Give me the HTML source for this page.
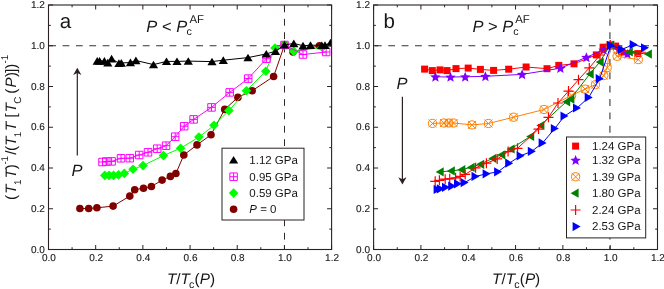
<!DOCTYPE html>
<html><head><meta charset="utf-8"><title>chart</title>
<style>html,body{margin:0;padding:0;background:#fff}svg{display:block}text{filter:grayscale(1);text-rendering:geometricPrecision}</style></head>
<body>
<svg width="664" height="289" viewBox="0 0 664 289" font-family="'Liberation Sans', sans-serif">
<rect width="664" height="289" fill="#fff"/>
<defs><clipPath id="ca"><rect x="48.5" y="5.0" width="283.5" height="244.5"/></clipPath><clipPath id="cb"><rect x="373.6" y="5.0" width="284.29999999999995" height="244.5"/></clipPath></defs>
<line x1="49.2" y1="45.75" x2="331.6" y2="45.75" stroke="#3a3030" stroke-width="1.05" stroke-dasharray="6.8 6.57"/>
<line x1="284.50" y1="5.5" x2="284.50" y2="249.5" stroke="#1a1010" stroke-width="0.9" stroke-dasharray="6.8 6.57"/>
<g clip-path="url(#ca)">
<path d="M79.90 208.50L88.70 208.50L96.90 207.80L113.10 206.10L129.80 196.10L134.70 189.70L143.50 188.20L151.40 186.50L162.10 180.10L170.40 176.40L175.90 173.50L183.80 155.00L197.00 144.90L211.00 134.80L224.70 109.40L237.90 97.40L252.20 90.70L273.60 76.50L284.50 45.00L293.00 51.90L319.40 45.80" fill="none" stroke="#800000" stroke-width="1.0" stroke-linejoin="round"/>
<circle cx="79.90" cy="208.50" r="3.8" fill="#800000"/>
<circle cx="88.70" cy="208.50" r="3.8" fill="#800000"/>
<circle cx="96.90" cy="207.80" r="3.8" fill="#800000"/>
<circle cx="113.10" cy="206.10" r="3.8" fill="#800000"/>
<circle cx="129.80" cy="196.10" r="3.8" fill="#800000"/>
<circle cx="134.70" cy="189.70" r="3.8" fill="#800000"/>
<circle cx="143.50" cy="188.20" r="3.8" fill="#800000"/>
<circle cx="151.40" cy="186.50" r="3.8" fill="#800000"/>
<circle cx="162.10" cy="180.10" r="3.8" fill="#800000"/>
<circle cx="170.40" cy="176.40" r="3.8" fill="#800000"/>
<circle cx="175.90" cy="173.50" r="3.8" fill="#800000"/>
<circle cx="183.80" cy="155.00" r="3.8" fill="#800000"/>
<circle cx="197.00" cy="144.90" r="3.8" fill="#800000"/>
<circle cx="211.00" cy="134.80" r="3.8" fill="#800000"/>
<circle cx="224.70" cy="109.40" r="3.8" fill="#800000"/>
<circle cx="237.90" cy="97.40" r="3.8" fill="#800000"/>
<circle cx="252.20" cy="90.70" r="3.8" fill="#800000"/>
<circle cx="273.60" cy="76.50" r="3.8" fill="#800000"/>
<circle cx="284.50" cy="45.00" r="3.8" fill="#800000"/>
<circle cx="293.00" cy="51.90" r="3.8" fill="#800000"/>
<circle cx="319.40" cy="45.80" r="3.8" fill="#800000"/>
<path d="M104.80 175.40L109.10 175.40L113.60 175.40L118.50 174.90L124.30 173.40L133.00 169.30L143.00 165.60L163.40 155.60L180.60 148.20L198.90 137.10L214.00 125.30L228.90 110.60L246.40 90.70L265.80 71.20L275.00 48.00L284.50 45.00L293.80 51.40L322.30 47.40" fill="none" stroke="#00ff00" stroke-width="1.0" stroke-linejoin="round"/>
<path d="M104.80 170.60L109.60 175.40L104.80 180.20L100.00 175.40z" fill="#00ff00"/>
<path d="M109.10 170.60L113.90 175.40L109.10 180.20L104.30 175.40z" fill="#00ff00"/>
<path d="M113.60 170.60L118.40 175.40L113.60 180.20L108.80 175.40z" fill="#00ff00"/>
<path d="M118.50 170.10L123.30 174.90L118.50 179.70L113.70 174.90z" fill="#00ff00"/>
<path d="M124.30 168.60L129.10 173.40L124.30 178.20L119.50 173.40z" fill="#00ff00"/>
<path d="M133.00 164.50L137.80 169.30L133.00 174.10L128.20 169.30z" fill="#00ff00"/>
<path d="M143.00 160.80L147.80 165.60L143.00 170.40L138.20 165.60z" fill="#00ff00"/>
<path d="M163.40 150.80L168.20 155.60L163.40 160.40L158.60 155.60z" fill="#00ff00"/>
<path d="M180.60 143.40L185.40 148.20L180.60 153.00L175.80 148.20z" fill="#00ff00"/>
<path d="M198.90 132.30L203.70 137.10L198.90 141.90L194.10 137.10z" fill="#00ff00"/>
<path d="M214.00 120.50L218.80 125.30L214.00 130.10L209.20 125.30z" fill="#00ff00"/>
<path d="M228.90 105.80L233.70 110.60L228.90 115.40L224.10 110.60z" fill="#00ff00"/>
<path d="M246.40 85.90L251.20 90.70L246.40 95.50L241.60 90.70z" fill="#00ff00"/>
<path d="M265.80 66.40L270.60 71.20L265.80 76.00L261.00 71.20z" fill="#00ff00"/>
<path d="M275.00 43.20L279.80 48.00L275.00 52.80L270.20 48.00z" fill="#00ff00"/>
<path d="M284.50 40.20L289.30 45.00L284.50 49.80L279.70 45.00z" fill="#00ff00"/>
<path d="M293.80 46.60L298.60 51.40L293.80 56.20L289.00 51.40z" fill="#00ff00"/>
<path d="M322.30 42.60L327.10 47.40L322.30 52.20L317.50 47.40z" fill="#00ff00"/>
<path d="M102.50 162.00L106.30 161.50L111.60 161.40L121.00 158.30L129.80 158.20L139.20 155.00L148.00 152.30L157.20 148.70L166.10 145.70L175.20 136.70L184.20 126.20L193.60 119.40L211.50 107.40L229.70 92.40L248.20 78.60L266.50 58.70L284.50 45.00L303.00 54.50L326.20 52.00" fill="none" stroke="#ff00ff" stroke-width="1.0" stroke-linejoin="round"/>
<path d="M98.75 158.25h7.5v7.5h-7.5zM102.50 158.25v7.5M98.75 162.00h7.5" fill="none" stroke="#ff00ff" stroke-width="1.0"/>
<path d="M102.55 157.75h7.5v7.5h-7.5zM106.30 157.75v7.5M102.55 161.50h7.5" fill="none" stroke="#ff00ff" stroke-width="1.0"/>
<path d="M107.85 157.65h7.5v7.5h-7.5zM111.60 157.65v7.5M107.85 161.40h7.5" fill="none" stroke="#ff00ff" stroke-width="1.0"/>
<path d="M117.25 154.55h7.5v7.5h-7.5zM121.00 154.55v7.5M117.25 158.30h7.5" fill="none" stroke="#ff00ff" stroke-width="1.0"/>
<path d="M126.05 154.45h7.5v7.5h-7.5zM129.80 154.45v7.5M126.05 158.20h7.5" fill="none" stroke="#ff00ff" stroke-width="1.0"/>
<path d="M135.45 151.25h7.5v7.5h-7.5zM139.20 151.25v7.5M135.45 155.00h7.5" fill="none" stroke="#ff00ff" stroke-width="1.0"/>
<path d="M144.25 148.55h7.5v7.5h-7.5zM148.00 148.55v7.5M144.25 152.30h7.5" fill="none" stroke="#ff00ff" stroke-width="1.0"/>
<path d="M153.45 144.95h7.5v7.5h-7.5zM157.20 144.95v7.5M153.45 148.70h7.5" fill="none" stroke="#ff00ff" stroke-width="1.0"/>
<path d="M162.35 141.95h7.5v7.5h-7.5zM166.10 141.95v7.5M162.35 145.70h7.5" fill="none" stroke="#ff00ff" stroke-width="1.0"/>
<path d="M171.45 132.95h7.5v7.5h-7.5zM175.20 132.95v7.5M171.45 136.70h7.5" fill="none" stroke="#ff00ff" stroke-width="1.0"/>
<path d="M180.45 122.45h7.5v7.5h-7.5zM184.20 122.45v7.5M180.45 126.20h7.5" fill="none" stroke="#ff00ff" stroke-width="1.0"/>
<path d="M189.85 115.65h7.5v7.5h-7.5zM193.60 115.65v7.5M189.85 119.40h7.5" fill="none" stroke="#ff00ff" stroke-width="1.0"/>
<path d="M207.75 103.65h7.5v7.5h-7.5zM211.50 103.65v7.5M207.75 107.40h7.5" fill="none" stroke="#ff00ff" stroke-width="1.0"/>
<path d="M225.95 88.65h7.5v7.5h-7.5zM229.70 88.65v7.5M225.95 92.40h7.5" fill="none" stroke="#ff00ff" stroke-width="1.0"/>
<path d="M244.45 74.85h7.5v7.5h-7.5zM248.20 74.85v7.5M244.45 78.60h7.5" fill="none" stroke="#ff00ff" stroke-width="1.0"/>
<path d="M262.75 54.95h7.5v7.5h-7.5zM266.50 54.95v7.5M262.75 58.70h7.5" fill="none" stroke="#ff00ff" stroke-width="1.0"/>
<path d="M280.75 41.25h7.5v7.5h-7.5zM284.50 41.25v7.5M280.75 45.00h7.5" fill="none" stroke="#ff00ff" stroke-width="1.0"/>
<path d="M299.25 50.75h7.5v7.5h-7.5zM303.00 50.75v7.5M299.25 54.50h7.5" fill="none" stroke="#ff00ff" stroke-width="1.0"/>
<path d="M322.45 48.25h7.5v7.5h-7.5zM326.20 48.25v7.5M322.45 52.00h7.5" fill="none" stroke="#ff00ff" stroke-width="1.0"/>
<path d="M97.20 61.00L99.60 61.00L104.40 61.00L107.80 62.70L111.60 58.70L118.90 63.20L121.30 63.00L130.40 62.50L135.90 60.50L153.50 64.60L166.50 61.40L177.00 61.40L188.30 61.10L212.00 61.60L223.30 60.20L248.00 57.60L266.30 53.90L275.50 51.20L284.50 44.80L293.80 43.50L303.00 45.70L310.50 45.20L321.80 45.40L325.00 45.20L330.50 42.70" fill="none" stroke="#000000" stroke-width="1.0" stroke-linejoin="round"/>
<path d="M97.20 57.10L101.80 64.70L92.60 64.70z" fill="#000000"/>
<path d="M99.60 57.10L104.20 64.70L95.00 64.70z" fill="#000000"/>
<path d="M104.40 57.10L109.00 64.70L99.80 64.70z" fill="#000000"/>
<path d="M107.80 58.80L112.40 66.40L103.20 66.40z" fill="#000000"/>
<path d="M111.60 54.80L116.20 62.40L107.00 62.40z" fill="#000000"/>
<path d="M118.90 59.30L123.50 66.90L114.30 66.90z" fill="#000000"/>
<path d="M121.30 59.10L125.90 66.70L116.70 66.70z" fill="#000000"/>
<path d="M130.40 58.60L135.00 66.20L125.80 66.20z" fill="#000000"/>
<path d="M135.90 56.60L140.50 64.20L131.30 64.20z" fill="#000000"/>
<path d="M153.50 60.70L158.10 68.30L148.90 68.30z" fill="#000000"/>
<path d="M166.50 57.50L171.10 65.10L161.90 65.10z" fill="#000000"/>
<path d="M177.00 57.50L181.60 65.10L172.40 65.10z" fill="#000000"/>
<path d="M188.30 57.20L192.90 64.80L183.70 64.80z" fill="#000000"/>
<path d="M212.00 57.70L216.60 65.30L207.40 65.30z" fill="#000000"/>
<path d="M223.30 56.30L227.90 63.90L218.70 63.90z" fill="#000000"/>
<path d="M248.00 53.70L252.60 61.30L243.40 61.30z" fill="#000000"/>
<path d="M266.30 50.00L270.90 57.60L261.70 57.60z" fill="#000000"/>
<path d="M275.50 47.30L280.10 54.90L270.90 54.90z" fill="#000000"/>
<path d="M284.50 40.90L289.10 48.50L279.90 48.50z" fill="#000000"/>
<path d="M293.80 39.60L298.40 47.20L289.20 47.20z" fill="#000000"/>
<path d="M303.00 41.80L307.60 49.40L298.40 49.40z" fill="#000000"/>
<path d="M310.50 41.30L315.10 48.90L305.90 48.90z" fill="#000000"/>
<path d="M321.80 41.50L326.40 49.10L317.20 49.10z" fill="#000000"/>
<path d="M325.00 41.30L329.60 48.90L320.40 48.90z" fill="#000000"/>
<path d="M330.50 38.80L335.10 46.40L325.90 46.40z" fill="#000000"/>
</g>
<path d="M48.50 249.5v-4.5M48.50 5.0v4.5M48.5 249.50h4.5M331.6 249.50h-4.5M72.09 249.5v-2.3M72.09 5.0v2.3M48.5 229.12h2.3M331.6 229.12h-2.3M95.68 249.5v-4.5M95.68 5.0v4.5M48.5 208.75h4.5M331.6 208.75h-4.5M119.28 249.5v-2.3M119.28 5.0v2.3M48.5 188.38h2.3M331.6 188.38h-2.3M142.87 249.5v-4.5M142.87 5.0v4.5M48.5 168.00h4.5M331.6 168.00h-4.5M166.46 249.5v-2.3M166.46 5.0v2.3M48.5 147.62h2.3M331.6 147.62h-2.3M190.05 249.5v-4.5M190.05 5.0v4.5M48.5 127.25h4.5M331.6 127.25h-4.5M213.64 249.5v-2.3M213.64 5.0v2.3M48.5 106.88h2.3M331.6 106.88h-2.3M237.23 249.5v-4.5M237.23 5.0v4.5M48.5 86.50h4.5M331.6 86.50h-4.5M260.83 249.5v-2.3M260.83 5.0v2.3M48.5 66.12h2.3M331.6 66.12h-2.3M284.42 249.5v-4.5M284.42 5.0v4.5M48.5 45.75h4.5M331.6 45.75h-4.5M308.01 249.5v-2.3M308.01 5.0v2.3M48.5 25.37h2.3M331.6 25.37h-2.3M331.60 249.5v-4.5M331.60 5.0v4.5M48.5 5.00h4.5M331.6 5.00h-4.5" stroke="#2a2222" stroke-width="1" fill="none"/>
<rect x="48.5" y="5.0" width="283.1" height="244.5" fill="none" stroke="#2a2222" stroke-width="1.1"/>
<text x="48.95" y="261.3" font-size="10" text-anchor="middle" fill="#1c1616" stroke="#1c1616" stroke-width="0.12">0.0</text>
<text x="44.90" y="252.70" font-size="10" text-anchor="end" fill="#1c1616" stroke="#1c1616" stroke-width="0.12">0.0</text>
<text x="96.13" y="261.3" font-size="10" text-anchor="middle" fill="#1c1616" stroke="#1c1616" stroke-width="0.12">0.2</text>
<text x="44.90" y="211.95" font-size="10" text-anchor="end" fill="#1c1616" stroke="#1c1616" stroke-width="0.12">0.2</text>
<text x="143.32" y="261.3" font-size="10" text-anchor="middle" fill="#1c1616" stroke="#1c1616" stroke-width="0.12">0.4</text>
<text x="44.90" y="171.20" font-size="10" text-anchor="end" fill="#1c1616" stroke="#1c1616" stroke-width="0.12">0.4</text>
<text x="190.50" y="261.3" font-size="10" text-anchor="middle" fill="#1c1616" stroke="#1c1616" stroke-width="0.12">0.6</text>
<text x="44.90" y="130.45" font-size="10" text-anchor="end" fill="#1c1616" stroke="#1c1616" stroke-width="0.12">0.6</text>
<text x="237.68" y="261.3" font-size="10" text-anchor="middle" fill="#1c1616" stroke="#1c1616" stroke-width="0.12">0.8</text>
<text x="44.90" y="89.70" font-size="10" text-anchor="end" fill="#1c1616" stroke="#1c1616" stroke-width="0.12">0.8</text>
<text x="284.87" y="261.3" font-size="10" text-anchor="middle" fill="#1c1616" stroke="#1c1616" stroke-width="0.12">1.0</text>
<text x="44.90" y="48.95" font-size="10" text-anchor="end" fill="#1c1616" stroke="#1c1616" stroke-width="0.12">1.0</text>
<text x="332.05" y="261.3" font-size="10" text-anchor="middle" fill="#1c1616" stroke="#1c1616" stroke-width="0.12">1.2</text>
<text x="44.90" y="8.20" font-size="10" text-anchor="end" fill="#1c1616" stroke="#1c1616" stroke-width="0.12">1.2</text>
<line x1="374.90000000000003" y1="45.75" x2="657.5" y2="45.75" stroke="#3a3030" stroke-width="1.05" stroke-dasharray="6.8 6.57"/>
<line x1="609.90" y1="5.5" x2="609.90" y2="249.5" stroke="#787474" stroke-width="1.6" stroke-dasharray="6.8 6.57"/>
<g clip-path="url(#cb)">
<path d="M424.60 69.10L432.30 70.60L440.00 69.90L447.00 70.60L456.00 68.60L468.20 68.10L480.40 69.40L493.60 70.40L508.70 69.20L526.10 67.00L547.00 68.70L558.80 65.40L574.00 63.80L596.30 54.90L603.10 47.20L610.20 44.90L615.60 46.10L621.70 52.00L637.80 53.60" fill="none" stroke="#ff0000" stroke-width="1.0" stroke-linejoin="round"/>
<rect x="421.10" y="65.60" width="7.0" height="7.0" fill="#ff0000"/>
<rect x="428.80" y="67.10" width="7.0" height="7.0" fill="#ff0000"/>
<rect x="436.50" y="66.40" width="7.0" height="7.0" fill="#ff0000"/>
<rect x="443.50" y="67.10" width="7.0" height="7.0" fill="#ff0000"/>
<rect x="452.50" y="65.10" width="7.0" height="7.0" fill="#ff0000"/>
<rect x="464.70" y="64.60" width="7.0" height="7.0" fill="#ff0000"/>
<rect x="476.90" y="65.90" width="7.0" height="7.0" fill="#ff0000"/>
<rect x="490.10" y="66.90" width="7.0" height="7.0" fill="#ff0000"/>
<rect x="505.20" y="65.70" width="7.0" height="7.0" fill="#ff0000"/>
<rect x="522.60" y="63.50" width="7.0" height="7.0" fill="#ff0000"/>
<rect x="543.50" y="65.20" width="7.0" height="7.0" fill="#ff0000"/>
<rect x="555.30" y="61.90" width="7.0" height="7.0" fill="#ff0000"/>
<rect x="570.50" y="60.30" width="7.0" height="7.0" fill="#ff0000"/>
<rect x="592.80" y="51.40" width="7.0" height="7.0" fill="#ff0000"/>
<rect x="599.60" y="43.70" width="7.0" height="7.0" fill="#ff0000"/>
<rect x="606.70" y="41.40" width="7.0" height="7.0" fill="#ff0000"/>
<rect x="612.10" y="42.60" width="7.0" height="7.0" fill="#ff0000"/>
<rect x="618.20" y="48.50" width="7.0" height="7.0" fill="#ff0000"/>
<rect x="634.30" y="50.10" width="7.0" height="7.0" fill="#ff0000"/>
<path d="M435.40 76.80L450.50 77.00L465.20 76.80L485.40 76.30L522.10 74.40L560.40 68.20L586.40 57.30L603.60 50.00L610.20 45.00L619.00 49.50L627.40 54.00" fill="none" stroke="#8000ff" stroke-width="1.0" stroke-linejoin="round"/>
<path d="M435.40 71.70L436.84 75.22L440.63 75.50L437.73 77.96L438.63 81.65L435.40 79.65L432.17 81.65L433.07 77.96L430.17 75.50L433.96 75.22z" fill="#8000ff"/>
<path d="M450.50 71.90L451.94 75.42L455.73 75.70L452.83 78.16L453.73 81.85L450.50 79.85L447.27 81.85L448.17 78.16L445.27 75.70L449.06 75.42z" fill="#8000ff"/>
<path d="M465.20 71.70L466.64 75.22L470.43 75.50L467.53 77.96L468.43 81.65L465.20 79.65L461.97 81.65L462.87 77.96L459.97 75.50L463.76 75.22z" fill="#8000ff"/>
<path d="M485.40 71.20L486.84 74.72L490.63 75.00L487.73 77.46L488.63 81.15L485.40 79.15L482.17 81.15L483.07 77.46L480.17 75.00L483.96 74.72z" fill="#8000ff"/>
<path d="M522.10 69.30L523.54 72.82L527.33 73.10L524.43 75.56L525.33 79.25L522.10 77.25L518.87 79.25L519.77 75.56L516.87 73.10L520.66 72.82z" fill="#8000ff"/>
<path d="M560.40 63.10L561.84 66.62L565.63 66.90L562.73 69.36L563.63 73.05L560.40 71.05L557.17 73.05L558.07 69.36L555.17 66.90L558.96 66.62z" fill="#8000ff"/>
<path d="M586.40 52.20L587.84 55.72L591.63 56.00L588.73 58.46L589.63 62.15L586.40 60.15L583.17 62.15L584.07 58.46L581.17 56.00L584.96 55.72z" fill="#8000ff"/>
<path d="M603.60 44.90L605.04 48.42L608.83 48.70L605.93 51.16L606.83 54.85L603.60 52.85L600.37 54.85L601.27 51.16L598.37 48.70L602.16 48.42z" fill="#8000ff"/>
<path d="M610.20 39.90L611.64 43.42L615.43 43.70L612.53 46.16L613.43 49.85L610.20 47.85L606.97 49.85L607.87 46.16L604.97 43.70L608.76 43.42z" fill="#8000ff"/>
<path d="M619.00 44.40L620.44 47.92L624.23 48.20L621.33 50.66L622.23 54.35L619.00 52.35L615.77 54.35L616.67 50.66L613.77 48.20L617.56 47.92z" fill="#8000ff"/>
<path d="M627.40 48.90L628.84 52.42L632.63 52.70L629.73 55.16L630.63 58.85L627.40 56.85L624.17 58.85L625.07 55.16L622.17 52.70L625.96 52.42z" fill="#8000ff"/>
<path d="M432.50 123.40L444.10 123.00L448.80 123.00L453.50 123.00L472.00 124.90L488.40 123.50L513.60 117.20L544.00 109.50L571.60 95.30L585.10 89.10L595.40 84.70L603.80 75.60L607.20 67.60L610.20 45.50L617.10 56.30L638.30 59.60" fill="none" stroke="#ff8000" stroke-width="1.0" stroke-linejoin="round"/>
<circle cx="432.50" cy="123.40" r="4.1" fill="none" stroke="#ff8000" stroke-width="1"/><path d="M428.50 119.40L436.50 127.40M428.50 127.40L436.50 119.40" stroke="#ff8000" stroke-width="1" fill="none"/>
<circle cx="444.10" cy="123.00" r="4.1" fill="none" stroke="#ff8000" stroke-width="1"/><path d="M440.10 119.00L448.10 127.00M440.10 127.00L448.10 119.00" stroke="#ff8000" stroke-width="1" fill="none"/>
<circle cx="448.80" cy="123.00" r="4.1" fill="none" stroke="#ff8000" stroke-width="1"/><path d="M444.80 119.00L452.80 127.00M444.80 127.00L452.80 119.00" stroke="#ff8000" stroke-width="1" fill="none"/>
<circle cx="453.50" cy="123.00" r="4.1" fill="none" stroke="#ff8000" stroke-width="1"/><path d="M449.50 119.00L457.50 127.00M449.50 127.00L457.50 119.00" stroke="#ff8000" stroke-width="1" fill="none"/>
<circle cx="472.00" cy="124.90" r="4.1" fill="none" stroke="#ff8000" stroke-width="1"/><path d="M468.00 120.90L476.00 128.90M468.00 128.90L476.00 120.90" stroke="#ff8000" stroke-width="1" fill="none"/>
<circle cx="488.40" cy="123.50" r="4.1" fill="none" stroke="#ff8000" stroke-width="1"/><path d="M484.40 119.50L492.40 127.50M484.40 127.50L492.40 119.50" stroke="#ff8000" stroke-width="1" fill="none"/>
<circle cx="513.60" cy="117.20" r="4.1" fill="none" stroke="#ff8000" stroke-width="1"/><path d="M509.60 113.20L517.60 121.20M509.60 121.20L517.60 113.20" stroke="#ff8000" stroke-width="1" fill="none"/>
<circle cx="544.00" cy="109.50" r="4.1" fill="none" stroke="#ff8000" stroke-width="1"/><path d="M540.00 105.50L548.00 113.50M540.00 113.50L548.00 105.50" stroke="#ff8000" stroke-width="1" fill="none"/>
<circle cx="571.60" cy="95.30" r="4.1" fill="none" stroke="#ff8000" stroke-width="1"/><path d="M567.60 91.30L575.60 99.30M567.60 99.30L575.60 91.30" stroke="#ff8000" stroke-width="1" fill="none"/>
<circle cx="585.10" cy="89.10" r="4.1" fill="none" stroke="#ff8000" stroke-width="1"/><path d="M581.10 85.10L589.10 93.10M581.10 93.10L589.10 85.10" stroke="#ff8000" stroke-width="1" fill="none"/>
<circle cx="595.40" cy="84.70" r="4.1" fill="none" stroke="#ff8000" stroke-width="1"/><path d="M591.40 80.70L599.40 88.70M591.40 88.70L599.40 80.70" stroke="#ff8000" stroke-width="1" fill="none"/>
<circle cx="603.80" cy="75.60" r="4.1" fill="none" stroke="#ff8000" stroke-width="1"/><path d="M599.80 71.60L607.80 79.60M599.80 79.60L607.80 71.60" stroke="#ff8000" stroke-width="1" fill="none"/>
<circle cx="607.20" cy="67.60" r="4.1" fill="none" stroke="#ff8000" stroke-width="1"/><path d="M603.20 63.60L611.20 71.60M603.20 71.60L611.20 63.60" stroke="#ff8000" stroke-width="1" fill="none"/>
<circle cx="610.20" cy="45.50" r="4.1" fill="none" stroke="#ff8000" stroke-width="1"/><path d="M606.20 41.50L614.20 49.50M606.20 49.50L614.20 41.50" stroke="#ff8000" stroke-width="1" fill="none"/>
<circle cx="617.10" cy="56.30" r="4.1" fill="none" stroke="#ff8000" stroke-width="1"/><path d="M613.10 52.30L621.10 60.30M613.10 60.30L621.10 52.30" stroke="#ff8000" stroke-width="1" fill="none"/>
<circle cx="638.30" cy="59.60" r="4.1" fill="none" stroke="#ff8000" stroke-width="1"/><path d="M634.30 55.60L642.30 63.60M634.30 63.60L642.30 55.60" stroke="#ff8000" stroke-width="1" fill="none"/>
<path d="M439.70 171.90L450.80 170.90L461.30 169.70L470.70 167.40L480.20 164.30L492.40 158.40L501.30 154.80L510.60 149.00L530.20 136.50L540.40 125.50L566.20 101.80L570.40 99.20L589.70 74.10L599.70 62.10L610.20 45.00L628.80 52.00L647.90 54.10" fill="none" stroke="#008000" stroke-width="1.0" stroke-linejoin="round"/>
<path d="M435.70 171.90L443.70 167.30L443.70 176.50z" fill="#008000"/>
<path d="M446.80 170.90L454.80 166.30L454.80 175.50z" fill="#008000"/>
<path d="M457.30 169.70L465.30 165.10L465.30 174.30z" fill="#008000"/>
<path d="M466.70 167.40L474.70 162.80L474.70 172.00z" fill="#008000"/>
<path d="M476.20 164.30L484.20 159.70L484.20 168.90z" fill="#008000"/>
<path d="M488.40 158.40L496.40 153.80L496.40 163.00z" fill="#008000"/>
<path d="M497.30 154.80L505.30 150.20L505.30 159.40z" fill="#008000"/>
<path d="M506.60 149.00L514.60 144.40L514.60 153.60z" fill="#008000"/>
<path d="M526.20 136.50L534.20 131.90L534.20 141.10z" fill="#008000"/>
<path d="M536.40 125.50L544.40 120.90L544.40 130.10z" fill="#008000"/>
<path d="M562.20 101.80L570.20 97.20L570.20 106.40z" fill="#008000"/>
<path d="M566.40 99.20L574.40 94.60L574.40 103.80z" fill="#008000"/>
<path d="M585.70 74.10L593.70 69.50L593.70 78.70z" fill="#008000"/>
<path d="M595.70 62.10L603.70 57.50L603.70 66.70z" fill="#008000"/>
<path d="M606.20 45.00L614.20 40.40L614.20 49.60z" fill="#008000"/>
<path d="M624.80 52.00L632.80 47.40L632.80 56.60z" fill="#008000"/>
<path d="M643.90 54.10L651.90 49.50L651.90 58.70z" fill="#008000"/>
<path d="M435.20 181.30L439.40 180.30L445.20 179.20L449.70 178.80L455.60 177.80L460.10 176.40L465.20 174.40L475.60 167.80L486.40 163.20L497.20 158.90L508.10 151.60L517.50 148.30L538.50 129.10L548.50 117.30L558.00 103.00L568.50 91.10L578.50 79.70L589.30 67.90L600.00 55.00L610.20 45.00L621.50 50.80" fill="none" stroke="#ff0000" stroke-width="1.0" stroke-linejoin="round"/>
<path d="M430.20 181.30h10.0M435.20 176.30v10.0" stroke="#ff0000" stroke-width="1.2" fill="none"/>
<path d="M434.40 180.30h10.0M439.40 175.30v10.0" stroke="#ff0000" stroke-width="1.2" fill="none"/>
<path d="M440.20 179.20h10.0M445.20 174.20v10.0" stroke="#ff0000" stroke-width="1.2" fill="none"/>
<path d="M444.70 178.80h10.0M449.70 173.80v10.0" stroke="#ff0000" stroke-width="1.2" fill="none"/>
<path d="M450.60 177.80h10.0M455.60 172.80v10.0" stroke="#ff0000" stroke-width="1.2" fill="none"/>
<path d="M455.10 176.40h10.0M460.10 171.40v10.0" stroke="#ff0000" stroke-width="1.2" fill="none"/>
<path d="M460.20 174.40h10.0M465.20 169.40v10.0" stroke="#ff0000" stroke-width="1.2" fill="none"/>
<path d="M470.60 167.80h10.0M475.60 162.80v10.0" stroke="#ff0000" stroke-width="1.2" fill="none"/>
<path d="M481.40 163.20h10.0M486.40 158.20v10.0" stroke="#ff0000" stroke-width="1.2" fill="none"/>
<path d="M492.20 158.90h10.0M497.20 153.90v10.0" stroke="#ff0000" stroke-width="1.2" fill="none"/>
<path d="M503.10 151.60h10.0M508.10 146.60v10.0" stroke="#ff0000" stroke-width="1.2" fill="none"/>
<path d="M512.50 148.30h10.0M517.50 143.30v10.0" stroke="#ff0000" stroke-width="1.2" fill="none"/>
<path d="M533.50 129.10h10.0M538.50 124.10v10.0" stroke="#ff0000" stroke-width="1.2" fill="none"/>
<path d="M543.50 117.30h10.0M548.50 112.30v10.0" stroke="#ff0000" stroke-width="1.2" fill="none"/>
<path d="M553.00 103.00h10.0M558.00 98.00v10.0" stroke="#ff0000" stroke-width="1.2" fill="none"/>
<path d="M563.50 91.10h10.0M568.50 86.10v10.0" stroke="#ff0000" stroke-width="1.2" fill="none"/>
<path d="M573.50 79.70h10.0M578.50 74.70v10.0" stroke="#ff0000" stroke-width="1.2" fill="none"/>
<path d="M584.30 67.90h10.0M589.30 62.90v10.0" stroke="#ff0000" stroke-width="1.2" fill="none"/>
<path d="M595.00 55.00h10.0M600.00 50.00v10.0" stroke="#ff0000" stroke-width="1.2" fill="none"/>
<path d="M605.20 45.00h10.0M610.20 40.00v10.0" stroke="#ff0000" stroke-width="1.2" fill="none"/>
<path d="M616.50 50.80h10.0M621.50 45.80v10.0" stroke="#ff0000" stroke-width="1.2" fill="none"/>
<path d="M621.5 50.8L646.2 52.3" stroke="#ff0000" stroke-width="1" fill="none"/>
<path d="M437.60 189.40L440.80 188.80L446.00 187.30L452.20 186.10L458.00 183.80L464.60 182.60L475.50 176.40L486.60 173.80L498.10 171.80L509.20 163.20L520.60 155.80L531.80 151.30L542.60 142.90L554.80 128.50L564.50 116.00L577.00 108.00L588.70 97.40L599.70 78.70L610.90 45.40L621.80 49.30L633.70 44.60L645.00 47.80" fill="none" stroke="#0000ff" stroke-width="1.0" stroke-linejoin="round"/>
<path d="M441.60 189.40L433.60 184.80L433.60 194.00z" fill="#0000ff"/>
<path d="M444.80 188.80L436.80 184.20L436.80 193.40z" fill="#0000ff"/>
<path d="M450.00 187.30L442.00 182.70L442.00 191.90z" fill="#0000ff"/>
<path d="M456.20 186.10L448.20 181.50L448.20 190.70z" fill="#0000ff"/>
<path d="M462.00 183.80L454.00 179.20L454.00 188.40z" fill="#0000ff"/>
<path d="M468.60 182.60L460.60 178.00L460.60 187.20z" fill="#0000ff"/>
<path d="M479.50 176.40L471.50 171.80L471.50 181.00z" fill="#0000ff"/>
<path d="M490.60 173.80L482.60 169.20L482.60 178.40z" fill="#0000ff"/>
<path d="M502.10 171.80L494.10 167.20L494.10 176.40z" fill="#0000ff"/>
<path d="M513.20 163.20L505.20 158.60L505.20 167.80z" fill="#0000ff"/>
<path d="M524.60 155.80L516.60 151.20L516.60 160.40z" fill="#0000ff"/>
<path d="M535.80 151.30L527.80 146.70L527.80 155.90z" fill="#0000ff"/>
<path d="M546.60 142.90L538.60 138.30L538.60 147.50z" fill="#0000ff"/>
<path d="M558.80 128.50L550.80 123.90L550.80 133.10z" fill="#0000ff"/>
<path d="M568.50 116.00L560.50 111.40L560.50 120.60z" fill="#0000ff"/>
<path d="M581.00 108.00L573.00 103.40L573.00 112.60z" fill="#0000ff"/>
<path d="M592.70 97.40L584.70 92.80L584.70 102.00z" fill="#0000ff"/>
<path d="M603.70 78.70L595.70 74.10L595.70 83.30z" fill="#0000ff"/>
<path d="M614.90 45.40L606.90 40.80L606.90 50.00z" fill="#0000ff"/>
<path d="M625.80 49.30L617.80 44.70L617.80 53.90z" fill="#0000ff"/>
<path d="M637.70 44.60L629.70 40.00L629.70 49.20z" fill="#0000ff"/>
<path d="M649.00 47.80L641.00 43.20L641.00 52.40z" fill="#0000ff"/>
</g>
<path d="M373.60 249.5v-4.5M373.60 5.0v4.5M373.6 249.50h4.5M657.5 249.50h-4.5M397.26 249.5v-2.3M397.26 5.0v2.3M373.6 229.12h2.3M657.5 229.12h-2.3M420.92 249.5v-4.5M420.92 5.0v4.5M373.6 208.75h4.5M657.5 208.75h-4.5M444.58 249.5v-2.3M444.58 5.0v2.3M373.6 188.38h2.3M657.5 188.38h-2.3M468.23 249.5v-4.5M468.23 5.0v4.5M373.6 168.00h4.5M657.5 168.00h-4.5M491.89 249.5v-2.3M491.89 5.0v2.3M373.6 147.62h2.3M657.5 147.62h-2.3M515.55 249.5v-4.5M515.55 5.0v4.5M373.6 127.25h4.5M657.5 127.25h-4.5M539.21 249.5v-2.3M539.21 5.0v2.3M373.6 106.88h2.3M657.5 106.88h-2.3M562.87 249.5v-4.5M562.87 5.0v4.5M373.6 86.50h4.5M657.5 86.50h-4.5M586.53 249.5v-2.3M586.53 5.0v2.3M373.6 66.12h2.3M657.5 66.12h-2.3M610.18 249.5v-4.5M610.18 5.0v4.5M373.6 45.75h4.5M657.5 45.75h-4.5M633.84 249.5v-2.3M633.84 5.0v2.3M373.6 25.37h2.3M657.5 25.37h-2.3M657.50 249.5v-4.5M657.50 5.0v4.5M373.6 5.00h4.5M657.5 5.00h-4.5" stroke="#2a2222" stroke-width="1" fill="none"/>
<rect x="373.6" y="5.0" width="283.9" height="244.5" fill="none" stroke="#2a2222" stroke-width="1.1"/>
<text x="374.05" y="261.3" font-size="10" text-anchor="middle" fill="#1c1616" stroke="#1c1616" stroke-width="0.12">0.0</text>
<text x="370.00" y="252.70" font-size="10" text-anchor="end" fill="#1c1616" stroke="#1c1616" stroke-width="0.12">0.0</text>
<text x="421.37" y="261.3" font-size="10" text-anchor="middle" fill="#1c1616" stroke="#1c1616" stroke-width="0.12">0.2</text>
<text x="370.00" y="211.95" font-size="10" text-anchor="end" fill="#1c1616" stroke="#1c1616" stroke-width="0.12">0.2</text>
<text x="468.68" y="261.3" font-size="10" text-anchor="middle" fill="#1c1616" stroke="#1c1616" stroke-width="0.12">0.4</text>
<text x="370.00" y="171.20" font-size="10" text-anchor="end" fill="#1c1616" stroke="#1c1616" stroke-width="0.12">0.4</text>
<text x="516.00" y="261.3" font-size="10" text-anchor="middle" fill="#1c1616" stroke="#1c1616" stroke-width="0.12">0.6</text>
<text x="370.00" y="130.45" font-size="10" text-anchor="end" fill="#1c1616" stroke="#1c1616" stroke-width="0.12">0.6</text>
<text x="563.32" y="261.3" font-size="10" text-anchor="middle" fill="#1c1616" stroke="#1c1616" stroke-width="0.12">0.8</text>
<text x="370.00" y="89.70" font-size="10" text-anchor="end" fill="#1c1616" stroke="#1c1616" stroke-width="0.12">0.8</text>
<text x="610.63" y="261.3" font-size="10" text-anchor="middle" fill="#1c1616" stroke="#1c1616" stroke-width="0.12">1.0</text>
<text x="370.00" y="48.95" font-size="10" text-anchor="end" fill="#1c1616" stroke="#1c1616" stroke-width="0.12">1.0</text>
<text x="657.95" y="261.3" font-size="10" text-anchor="middle" fill="#1c1616" stroke="#1c1616" stroke-width="0.12">1.2</text>
<text x="370.00" y="8.20" font-size="10" text-anchor="end" fill="#1c1616" stroke="#1c1616" stroke-width="0.12">1.2</text>
<text x="59.7" y="27.7" font-size="20.5" fill="#1c1616">a</text>
<text x="383.6" y="27.7" font-size="20.5" fill="#1c1616">b</text>
<text x="146.3" y="32.1" font-size="16.5" fill="#1c1616"><tspan font-style="italic">P</tspan> &lt; <tspan font-style="italic">P</tspan><tspan font-size="10.7" dy="2.4" dx="-0.6">c</tspan><tspan font-size="11.4" dy="-11.7" dx="-2.5">AF</tspan></text>
<text x="472.5" y="32.1" font-size="16.5" fill="#1c1616"><tspan font-style="italic">P</tspan> &gt; <tspan font-style="italic">P</tspan><tspan font-size="10.7" dy="2.4" dx="0">c</tspan><tspan font-size="11.4" dy="-11.7" dx="-3.45">AF</tspan></text>
<text x="166.9" y="284.4" font-size="15.3" fill="#1c1616"><tspan font-style="italic">T</tspan>/<tspan font-style="italic">T</tspan><tspan font-size="10.6" dy="3.2" dx="-0.9">c</tspan><tspan dy="-3.2" dx="0.3">(</tspan><tspan font-style="italic">P</tspan>)</text>
<text x="492.1" y="284.4" font-size="15.3" fill="#1c1616"><tspan font-style="italic">T</tspan>/<tspan font-style="italic">T</tspan><tspan font-size="10.6" dy="3.2" dx="-0.9">c</tspan><tspan dy="-3.2" dx="0.3">(</tspan><tspan font-style="italic">P</tspan>)</text>
<g transform="translate(16.1 199.5) rotate(-90)" fill="#1c1616">
<text x="-0.5" y="0" font-size="15.1">(</text>
<text x="5.7" y="0" font-size="15.1" font-style="italic">T</text>
<text x="14.4" y="4.7" font-size="9.8">1</text>
<text x="21.3" y="0" font-size="15.1" font-style="italic">T</text>
<text x="30.2" y="0" font-size="15.1">)</text>
<text x="34.9" y="-8.2" font-size="9.8">-</text>
<text x="38.0" y="-8.2" font-size="9.8">1</text>
<text x="44.7" y="0" font-size="15.1">/</text>
<text x="48.5" y="0" font-size="15.1">(</text>
<text x="53.7" y="0" font-size="15.1" font-style="italic">T</text>
<text x="62.2" y="4.7" font-size="9.8">1</text>
<text x="68.4" y="0" font-size="15.1" font-style="italic">T</text>
<text x="82.1" y="0" font-size="15.1">[</text>
<text x="87.2" y="0" font-size="15.1" font-style="italic">T</text>
<text x="95.8" y="4.7" font-size="9.8">C</text>
<text x="105.8" y="0" font-size="15.1">(</text>
<text x="112.0" y="0" font-size="15.1" font-style="italic">P</text>
<text x="122.4" y="0" font-size="15.1">)</text>
<text x="126.7" y="0" font-size="15.1">]</text>
<text x="130.7" y="0" font-size="15.1">)</text>
<text x="135.9" y="-8.2" font-size="9.8">-</text>
<text x="139.3" y="-8.2" font-size="9.8">1</text>
</g>
<line x1="77.3" y1="155.6" x2="77.3" y2="70.8" stroke="#2a2222" stroke-width="1.2"/>
<path d="M77.3 67.8L81.39999999999999 75.1L77.3 73.1L73.2 75.1z" fill="#2a2222"/>
<text x="71.6" y="175.6" font-size="16.5" font-style="italic" fill="#1c1616">P</text>
<line x1="402.4" y1="96.7" x2="402.4" y2="181.5" stroke="#2a2222" stroke-width="1.2"/>
<path d="M402.4 184.5L406.5 177.2L402.4 179.2L398.29999999999995 177.2z" fill="#2a2222"/>
<text x="396.6" y="89.1" font-size="16.5" font-style="italic" fill="#1c1616">P</text>
<rect x="222" y="148.2" width="82" height="71.8" fill="#fff" stroke="#2a2222" stroke-width="1"/>
<path d="M233.60 155.90L238.20 163.50L229.00 163.50z" fill="#000000"/>
<text x="249.3" y="164.2" font-size="11.5" fill="#1c1616">1.12 GPa</text>
<path d="M229.85 172.95h7.5v7.5h-7.5zM233.60 172.95v7.5M229.85 176.70h7.5" fill="none" stroke="#ff00ff" stroke-width="1.0"/>
<text x="249.3" y="180.6" font-size="11.5" fill="#1c1616">0.95 GPa</text>
<path d="M233.60 188.30L238.40 193.10L233.60 197.90L228.80 193.10z" fill="#00ff00"/>
<text x="249.3" y="197" font-size="11.5" fill="#1c1616">0.59 GPa</text>
<circle cx="233.60" cy="209.30" r="3.8" fill="#800000"/>
<text x="249.3" y="213.2" font-size="11.5" fill="#1c1616"><tspan font-style="italic">P</tspan> = 0</text>
<rect x="566.5" y="137" width="79.2" height="100.9" fill="#fff" stroke="#2a2222" stroke-width="1"/>
<rect x="572.10" y="142.60" width="7.0" height="7.0" fill="#ff0000"/>
<text x="592.0" y="149.9" font-size="11.5" fill="#1c1616">1.24 GPa</text>
<path d="M575.60 155.10L577.04 158.62L580.83 158.90L577.93 161.36L578.83 165.05L575.60 163.05L572.37 165.05L573.27 161.36L570.37 158.90L574.16 158.62z" fill="#8000ff"/>
<text x="592.0" y="164" font-size="11.5" fill="#1c1616">1.32 GPa</text>
<circle cx="575.60" cy="176.80" r="4.1" fill="none" stroke="#ff8000" stroke-width="1"/><path d="M571.60 172.80L579.60 180.80M571.60 180.80L579.60 172.80" stroke="#ff8000" stroke-width="1" fill="none"/>
<text x="592.0" y="180.6" font-size="11.5" fill="#1c1616">1.39 GPa</text>
<path d="M570.60 193.20L578.60 188.60L578.60 197.80z" fill="#008000"/>
<text x="592.0" y="197" font-size="11.5" fill="#1c1616">1.80 GPa</text>
<path d="M570.60 210.00h10.0M575.60 205.00v10.0" stroke="#ff0000" stroke-width="1.2" fill="none"/>
<text x="592.0" y="213.8" font-size="11.5" fill="#1c1616">2.24 GPa</text>
<path d="M580.60 226.60L572.60 222.00L572.60 231.20z" fill="#0000ff"/>
<text x="592.0" y="230.4" font-size="11.5" fill="#1c1616">2.53 GPa</text>
</svg>
</body></html>
